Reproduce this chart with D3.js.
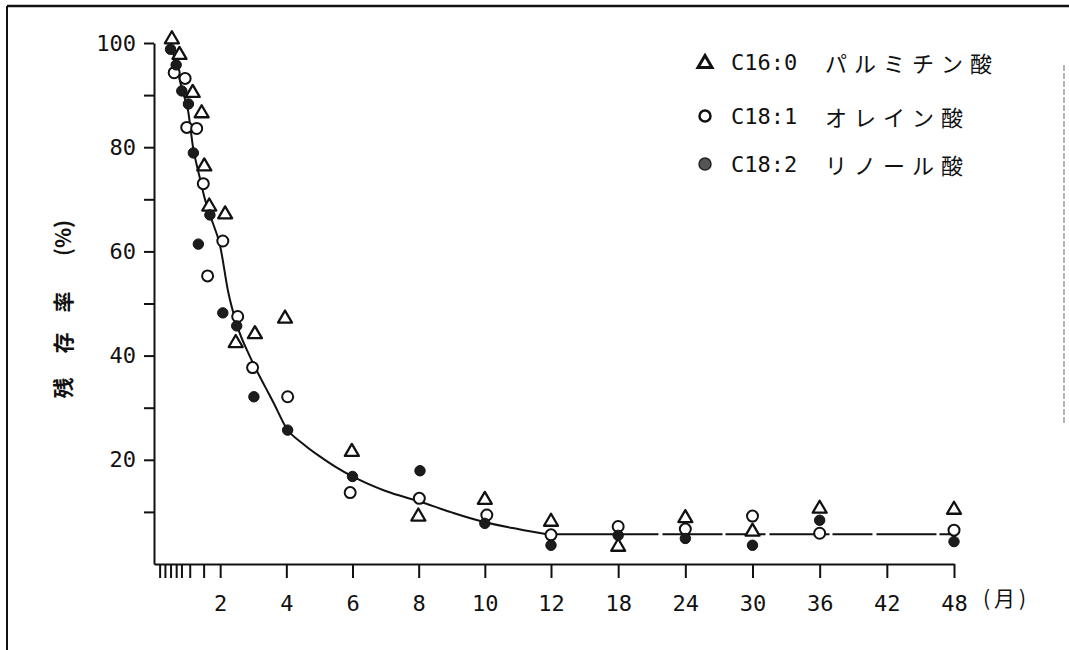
<!DOCTYPE html>
<html>
<head>
<meta charset="utf-8">
<script src="https://cdn.jsdelivr.net/npm/d3@7"></script>
<style>
  body { margin: 0; background: #fff; }
  svg { display: block; }
  .axis path, .axis line { stroke: #111; stroke-width: 2; }
  .axis text { font-family: "DejaVu Sans Mono", monospace; font-size: 22px; fill: #111; }
</style>
</head>
<body>
<svg id="chart" width="1069" height="650"></svg>
<script>
// tick labels
const xTicks = [2, 4, 6, 8, 10, 12, 18, 24, 30, 36, 42, 48];
const xMinorTicks = [0.17, 0.33, 0.5, 0.67, 0.83, 1.08, 1.5];
const yTicks = [10, 20, 30, 40, 50, 60, 70, 80, 90, 100];

// C16:0 palmitic acid (triangles): [month, % remaining]
const palmitic = [
  [0.54, 101], [0.77, 98], [1.17, 90.7], [1.44, 86.8], [1.52, 76.6], [1.67, 68.9],
  [2.15, 67.4], [2.47, 42.7], [3.05, 44.4], [3.96, 47.4], [5.98, 21.8], [7.99, 9.4],
  [10, 12.6], [12, 8.4], [18, 3.6], [24, 9.1], [30, 6.5], [36, 10.9], [48, 10.7]
];
// C18:1 oleic acid (open circles)
const oleic = [
  [0.61, 94.3], [0.94, 93.2], [0.99, 83.8], [1.29, 83.6], [1.49, 73], [1.62, 55.3],
  [2.08, 62], [2.53, 47.5], [2.98, 37.7], [4.04, 32.1], [5.93, 13.7], [8.02, 12.6],
  [10.06, 9.4], [12, 5.6], [18, 7.2], [24, 6.7], [30, 9.2], [36, 5.9], [48, 6.5]
];
// C18:2 linoleic acid (filled circles)
const linoleic = [
  [0.5, 98.8], [0.67, 95.8], [0.84, 90.8], [1.04, 88.3], [1.19, 78.9], [1.34, 61.4],
  [1.69, 67], [2.08, 48.2], [2.5, 45.7], [3.02, 32.1], [4.04, 25.7], [6.0, 16.8],
  [8.04, 17.9], [10, 7.8], [12, 3.6], [18, 5.5], [24, 4.9], [30, 3.6], [36, 8.4], [48, 4.3]
];
// hand drawn fit curve and the flat part after 12 months
const fitCurve = [
  [0.48, 100], [0.67, 96], [0.85, 91], [1.03, 87], [1.18, 80], [1.39, 74], [1.54, 70],
  [1.69, 67], [2.0, 61], [2.25, 52], [2.5, 46], [2.9, 39.8], [3.36, 34], [3.61, 31],
  [4.01, 26], [4.5, 23.1], [5.0, 20.7], [5.5, 18.6], [6.0, 16.8], [7.0, 14],
  [8.02, 12], [9.0, 9.9], [9.95, 8.1], [11.0, 6.7], [11.97, 5.6]
];
const plateau = [[12.4, 5.7], [48, 5.7]];

const legendCodes = ['C16:0', 'C18:1', 'C18:2'];
const legendNames = ['パルミチン酸', 'オレイン酸', 'リノール酸'];
const yLabelParts = ['残', '存', '率', '(%)'];

const svg = d3.select('#chart');

// page frame of the scan
svg.append('line').attr('x1', 7).attr('x2', 1069).attr('y1', 6).attr('y2', 6)
  .attr('stroke', '#111').attr('stroke-width', 2.5);
svg.append('line').attr('x1', 7).attr('x2', 7).attr('y1', 6).attr('y2', 650)
  .attr('stroke', '#111').attr('stroke-width', 2);
svg.append('line').attr('x1', 1064).attr('x2', 1064).attr('y1', 65).attr('y2', 425)
  .attr('stroke', '#999').attr('stroke-width', 1.5).attr('stroke-dasharray', '6,2');

// piecewise month scale: 0-12 spaced by 2, 12-48 spaced by 6
const x = d3.scaleLinear().domain([0, 12, 48]).range([154, 551, 954]);
const y = d3.scaleLinear().domain([0, 100]).range([564, 43]);

svg.append('g')
  .attr('class', 'axis')
  .attr('transform', `translate(${x(0)},0)`)
  .call(d3.axisLeft(y).tickValues(yTicks).tickSize(10).tickSizeOuter(0).tickPadding(8)
    .tickFormat(d => (d % 20 === 0 ? d : '')));

svg.append('g')
  .attr('class', 'axis')
  .attr('transform', `translate(0,${y(0)})`)
  .call(d3.axisBottom(x).tickValues(xTicks).tickSize(14).tickSizeOuter(0).tickPadding(17));

const minor = svg.append('g')
  .attr('class', 'axis')
  .attr('transform', `translate(0,${y(0)})`)
  .call(d3.axisBottom(x).tickValues(xMinorTicks).tickSize(14).tickFormat(''));
minor.select('.domain').remove();

// unit label
svg.append('text')
  .attr('x', 983).attr('y', 597)
  .attr('dominant-baseline', 'central')
  .style('font-family', '"Noto Sans CJK JP"').style('font-size', '21px')
  .style('letter-spacing', '4px').attr('fill', '#111')
  .text('(月)');

// y axis title, rotated
const yOffsets = [-78, -33, 8, 72];
svg.append('text')
  .attr('transform', 'translate(62,310) rotate(-90)')
  .attr('text-anchor', 'middle')
  .attr('dominant-baseline', 'central')
  .style('font-family', '"Noto Sans CJK JP"').style('font-size', '21px')
  .style('font-weight', 'bold')
  .attr('fill', '#111')
  .selectAll('tspan')
  .data(yLabelParts)
  .join('tspan')
  .attr('x', (d, i) => yOffsets[i])
  .attr('y', 0)
  .text(d => d);

// curve
const line = d3.line().x(d => x(d[0])).y(d => y(d[1]));
svg.append('path')
  .datum(fitCurve)
  .attr('d', line.curve(d3.curveMonotoneX))
  .attr('fill', 'none').attr('stroke', '#111').attr('stroke-width', 2);
svg.append('path')
  .datum(plateau)
  .attr('d', d3.line().x(d => x(d[0])).y(d => y(d[1])))
  .attr('fill', 'none').attr('stroke', '#111').attr('stroke-width', 2)
  .attr('stroke-dasharray', '60,3,40,4');

const triPath = 'M0,-6.5L7,5.5L-7,5.5Z';

const drawTriangles = (g, data) =>
  g.selectAll('path.tri').data(data).join('path')
    .attr('class', 'tri')
    .attr('d', triPath)
    .attr('transform', d => `translate(${x(d[0])},${y(d[1])})`)
    .attr('fill', '#fff').attr('stroke', '#111').attr('stroke-width', 2.3)
    .attr('stroke-linejoin', 'round');

const drawOpen = (g, data) =>
  g.selectAll('circle.open').data(data).join('circle')
    .attr('class', 'open')
    .attr('cx', d => x(d[0])).attr('cy', d => y(d[1])).attr('r', 5.5)
    .attr('fill', '#fff').attr('stroke', '#111').attr('stroke-width', 2);

const drawFilled = (g, data) =>
  g.selectAll('circle.fill').data(data).join('circle')
    .attr('class', 'fill')
    .attr('cx', d => x(d[0])).attr('cy', d => y(d[1])).attr('r', 5.2)
    .attr('fill', '#1c1c1c').attr('stroke', '#111').attr('stroke-width', 1);

const marks = svg.append('g');
drawOpen(marks.append('g'), oleic);
drawTriangles(marks.append('g'), palmitic);
drawFilled(marks.append('g'), linoleic);

// legend
const legendY = [62, 116, 164];
const legend = svg.append('g');
legend.append('path').attr('d', triPath)
  .attr('transform', `translate(705,${legendY[0]})`)
  .attr('fill', '#fff').attr('stroke', '#111').attr('stroke-width', 3);
legend.append('circle').attr('cx', 705).attr('cy', legendY[1]).attr('r', 5.5)
  .attr('fill', '#fff').attr('stroke', '#111').attr('stroke-width', 2.5);
legend.append('circle').attr('cx', 705).attr('cy', legendY[2]).attr('r', 6)
  .attr('fill', '#555').attr('stroke', '#222').attr('stroke-width', 1.5);

legend.selectAll('text.code').data(legendCodes).join('text')
  .attr('class', 'code')
  .attr('x', 731).attr('y', (d, i) => legendY[i])
  .attr('dominant-baseline', 'central')
  .style('font-family', '"DejaVu Sans Mono", monospace').style('font-size', '22px')
  .attr('fill', '#111')
  .text(d => d);

legend.selectAll('text.name').data(legendNames).join('text')
  .attr('class', 'name')
  .attr('x', 825).attr('y', (d, i) => legendY[i])
  .attr('dominant-baseline', 'central')
  .style('font-family', '"Noto Sans CJK JP"').style('font-size', '22px')
  .style('letter-spacing', '7px')
  .attr('fill', '#111')
  .text(d => d);
</script>
</body>
</html>
